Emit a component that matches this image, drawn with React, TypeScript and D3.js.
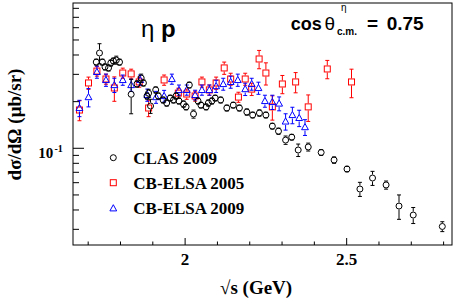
import React from "react";
import * as d3 from "d3";

// CLAS 2009
const clasX = [1.725, 1.735, 1.744, 1.752, 1.763, 1.770, 1.778, 1.787, 1.797, 1.833, 1.851, 1.864, 1.871, 1.882, 1.887, 1.893, 1.909, 1.917, 1.932, 1.943, 1.954, 1.964, 1.972, 1.981, 1.995, 2.003, 2.013, 2.026, 2.040, 2.049, 2.065, 2.072, 2.083, 2.093, 2.110, 2.129, 2.149, 2.168, 2.191, 2.209, 2.230, 2.250, 2.270, 2.289, 2.311, 2.330, 2.350, 2.381, 2.421, 2.461, 2.501, 2.541, 2.580, 2.622, 2.662, 2.706, 2.796];
const clasY = [0.360, 0.412, 0.360, 0.335, 0.330, 0.355, 0.366, 0.371, 0.360, 0.223, 0.260, 0.284, 0.264, 0.2175, 0.227, 0.1875, 0.238, 0.2175, 0.205, 0.196, 0.211, 0.205, 0.2175, 0.202, 0.193, 0.185, 0.256, 0.1665, 0.202, 0.190, 0.185, 0.196, 0.202, 0.211, 0.205, 0.182, 0.190, 0.182, 0.1715, 0.164, 0.169, 0.164, 0.139, 0.129, 0.113, 0.118, 0.0975, 0.102, 0.094, 0.084, 0.0735, 0.0546, 0.0643, 0.058, 0.0424, 0.0371, 0.0313];
const clasErr = [0.016, 0.061, 0.016, 0.015, 0.015, 0.016, 0.016, 0.022, 0.016, 0.056, 0.012, 0.017, 0.012, 0.010, 0.013, 0.0196, 0.011, 0.010, 0.009, 0.009, 0.009, 0.009, 0.010, 0.009, 0.009, 0.008, 0.011, 0.010, 0.009, 0.008, 0.008, 0.009, 0.009, 0.009, 0.009, 0.008, 0.008, 0.008, 0.008, 0.007, 0.008, 0.007, 0.006, 0.006, 0.007, 0.005, 0.009, 0.006, 0.004, 0.004, 0.003, 0.0057, 0.0067, 0.0035, 0.0076, 0.0044, 0.0023];

// CB-ELSA 2005
const elsa05X = [1.673, 1.701, 1.727, 1.755, 1.781, 1.807, 1.833, 1.858, 1.887, 1.935, 1.979, 2.005, 2.031, 2.052, 2.075, 2.096, 2.121, 2.141, 2.165, 2.186, 2.206, 2.229, 2.250, 2.270, 2.301, 2.342, 2.381, 2.440, 2.515];
const elsa05Y = [0.1766, 0.264, 0.315, 0.280, 0.245, 0.306, 0.302, 0.268, 0.182, 0.276, 0.227, 0.224, 0.2175, 0.268, 0.238, 0.264, 0.330, 0.280, 0.214, 0.280, 0.241, 0.377, 0.306, 0.185, 0.260, 0.268, 0.185, 0.325, 0.268];
const elsa05Err = [0.026, 0.024, 0.023, 0.021, 0.044, 0.023, 0.022, 0.020, 0.022, 0.021, 0.017, 0.017, 0.016, 0.020, 0.018, 0.024, 0.030, 0.025, 0.016, 0.025, 0.022, 0.051, 0.050, 0.033, 0.035, 0.040, 0.036, 0.044, 0.056];

// CB-ELSA 2009
const elsa09X = [1.673, 1.701, 1.727, 1.755, 1.781, 1.807, 1.833, 1.861, 1.883, 1.910, 1.935, 1.959, 1.981, 2.005, 2.031, 2.052, 2.075, 2.096, 2.118, 2.141, 2.163, 2.186, 2.206, 2.227, 2.247, 2.270, 2.291, 2.311, 2.332, 2.353, 2.371];
const elsa09Y = [0.182, 0.214, 0.311, 0.276, 0.256, 0.276, 0.256, 0.276, 0.221, 0.214, 0.2175, 0.280, 0.238, 0.238, 0.221, 0.238, 0.238, 0.252, 0.260, 0.268, 0.276, 0.241, 0.260, 0.245, 0.202, 0.199, 0.1945, 0.149, 0.164, 0.157, 0.137];
const elsa09Err = [0.022, 0.029, 0.028, 0.025, 0.027, 0.021, 0.023, 0.021, 0.020, 0.019, 0.019, 0.021, 0.018, 0.018, 0.016, 0.018, 0.018, 0.023, 0.023, 0.024, 0.025, 0.022, 0.023, 0.022, 0.018, 0.021, 0.020, 0.018, 0.020, 0.019, 0.016];

const xTickValues = [1.7, 1.8, 1.9, 2.0, 2.1, 2.2, 2.3, 2.4, 2.5, 2.6, 2.7, 2.8];
const xTickLabels = ["2", "2.5"];
const yTickValues = [0.03, 0.04, 0.05, 0.06, 0.07, 0.08, 0.09, 0.1, 0.2, 0.3, 0.4, 0.5, 0.6, 0.7, 0.8];

const legendLabels = ["CLAS 2009", "CB-ELSA 2005", "CB-ELSA 2009"];

const W = 457, H = 307;
const L = 73, R = 452, T = 3, B = 245;
const SERIF = "'Liberation Serif', 'Times New Roman', serif";
const SANS = "'Liberation Sans', Arial, Helvetica, sans-serif";

type Shape = "circle" | "square" | "triangle";

function Marker({ cx, cy, shape, color }: { cx: number; cy: number; shape: Shape; color: string }) {
  if (shape === "circle") return <circle cx={cx} cy={cy} r={3} fill="none" stroke={color} strokeWidth={1} />;
  if (shape === "square") return <rect x={cx - 3} y={cy - 3} width={6} height={6} fill="none" stroke={color} strokeWidth={1} />;
  const p = d3.path();
  p.moveTo(cx, cy - 3.6);
  p.lineTo(cx - 3.4, cy + 2.6);
  p.lineTo(cx + 3.4, cy + 2.6);
  p.closePath();
  return <path d={p.toString()} fill="none" stroke={color} strokeWidth={1} />;
}

export default function App() {
  const x = d3.scaleLinear().domain([1.653, 2.826]).range([L, R]);
  const y = d3.scaleLog().domain([0.02377, 0.866]).range([B, T]);

  const series: { xs: number[]; ys: number[]; es: number[]; shape: Shape; color: string }[] = [
    { xs: elsa05X, ys: elsa05Y, es: elsa05Err, shape: "square", color: "#ff0000" },
    { xs: elsa09X, ys: elsa09Y, es: elsa09Err, shape: "triangle", color: "#0000ff" },
    { xs: clasX, ys: clasY, es: clasErr, shape: "circle", color: "#000000" },
  ];

  const gap = 3.5;
  const cap = 2;

  return (
    <svg width={W} height={H} style={{ position: "absolute", left: 0, top: 0, background: "#fff" }}>
      <rect x={0} y={0} width={W} height={H} fill="#fff" />
      {/* data */}
      {series.map((s, si) => (
        <g key={si}>
          {s.xs.map((xv, i) => {
            const cx = x(xv);
            const cy = y(s.ys[i]);
            const yt = y(s.ys[i] + s.es[i]);
            const yb = y(Math.max(s.ys[i] - s.es[i], 1e-4));
            return (
              <g key={i} stroke={s.color} strokeWidth={1}>
                {yt < cy - gap && <line x1={cx} x2={cx} y1={yt} y2={cy - gap} />}
                {yb > cy + gap && <line x1={cx} x2={cx} y1={cy + gap} y2={yb} />}
                <line x1={cx - cap} x2={cx + cap} y1={yt} y2={yt} />
                <line x1={cx - cap} x2={cx + cap} y1={yb} y2={yb} />
                <Marker cx={cx} cy={cy} shape={s.shape} color={s.color} />
              </g>
            );
          })}
        </g>
      ))}

      {/* frame */}
      <rect x={L} y={T} width={R - L} height={B - T} fill="none" stroke="#000" strokeWidth={1} />

      {/* x ticks */}
      {xTickValues.map((v, i) => {
        const major = Math.abs(v - 2) < 1e-6 || Math.abs(v - 2.5) < 1e-6;
        return <line key={i} x1={x(v)} x2={x(v)} y1={B} y2={B - (major ? 7 : 3.5)} stroke="#000" strokeWidth={1} />;
      })}
      {[2, 2.5].map((v, i) => (
        <text key={i} x={x(v)} y={265} textAnchor="middle" fontFamily={SERIF} fontWeight="bold" fontSize={17}>
          {xTickLabels[i]}
        </text>
      ))}

      {/* y ticks */}
      {yTickValues.map((v, i) => {
        const major = Math.abs(v - 0.1) < 1e-9;
        return <line key={i} x1={L} x2={L + (major ? 11 : 6)} y1={y(v)} y2={y(v)} stroke="#000" strokeWidth={1} />;
      })}
      <text x={38.3} y={158} fontFamily={SERIF} fontWeight="bold" fontSize={15}>10</text>
      <text x={54.5} y={152} fontFamily={SERIF} fontWeight="bold" fontSize={10}>-1</text>

      {/* axis titles */}
      <text x={220} y={294} fontFamily={SERIF} fontWeight="bold" fontSize={19}>√s (GeV)</text>
      <text transform="translate(21,124.5) rotate(-90)" textAnchor="middle" fontFamily={SERIF} fontWeight="bold" fontSize={19}>
        dσ/dΩ (μb/sr)
      </text>

      {/* eta p */}
      <text y={37} fontFamily={SANS} fontSize={24}>
        <tspan x={141}>η</tspan>
        <tspan x={161} fontWeight="bold">p</tspan>
      </text>

      {/* cos theta */}
      <text fontFamily={SANS} fontWeight="bold">
        <tspan x={290.7} y={30} fontSize={18}>cos</tspan>
        <tspan x={324.5} y={30} fontSize={19} fontWeight="normal">θ</tspan>
        <tspan x={341} y={11} fontSize={10} fontWeight="normal">η</tspan>
        <tspan x={337} y={34.5} fontSize={10}>c.m.</tspan>
        <tspan x={367} y={30} fontSize={19}>=</tspan>
        <tspan x={386.7} y={30} fontSize={19}>0.75</tspan>
      </text>

      {/* legend */}
      {(["circle", "square", "triangle"] as Shape[]).map((sh, i) => {
        const cy = [157.7, 182.7, 208.3][i];
        const col = ["#000000", "#ff0000", "#0000ff"][i];
        return (
          <g key={i}>
            <Marker cx={113.3} cy={cy} shape={sh} color={col} />
            <text x={133.3} y={cy + 6} fontFamily={SERIF} fontWeight="bold" fontSize={17}>{legendLabels[i]}</text>
          </g>
        );
      })}
    </svg>
  );
}
